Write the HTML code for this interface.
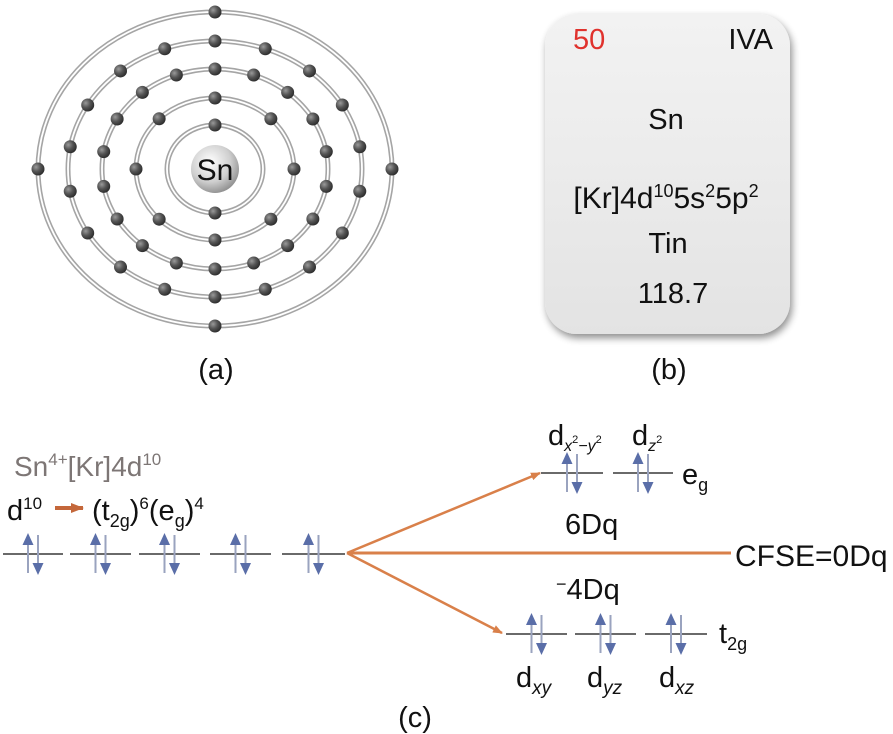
<!DOCTYPE html>
<html><head><meta charset="utf-8"><style>
html,body{margin:0;padding:0;background:#fff;}
svg{display:block;font-family:"Liberation Sans",Arial,sans-serif;}
</style></head><body>
<svg id="s" width="893" height="734" viewBox="0 0 893 734" xmlns="http://www.w3.org/2000/svg">
<defs>
<radialGradient id="el" cx="0.35" cy="0.35" r="0.7"><stop offset="0" stop-color="#9a9a9a"/><stop offset="0.5" stop-color="#555"/><stop offset="1" stop-color="#2a2a2a"/></radialGradient>
<radialGradient id="nuc" cx="0.4" cy="0.35" r="0.7"><stop offset="0" stop-color="#ffffff"/><stop offset="0.6" stop-color="#cfcfcf"/><stop offset="1" stop-color="#8a8a8a"/></radialGradient>
<linearGradient id="card" x1="0" y1="0" x2="0" y2="1"><stop offset="0" stop-color="#f2f2f2"/><stop offset="0.5" stop-color="#ebebeb"/><stop offset="1" stop-color="#e3e3e3"/></linearGradient>
<filter id="sh" x="-10%" y="-10%" width="125%" height="125%"><feGaussianBlur in="SourceAlpha" stdDeviation="4"/><feOffset dx="2" dy="4"/><feComponentTransfer><feFuncA type="linear" slope="0.45"/></feComponentTransfer><feMerge><feMergeNode/><feMergeNode in="SourceGraphic"/></feMerge></filter>
<marker id="ah" markerWidth="10" markerHeight="8" refX="9" refY="4" orient="auto" markerUnits="userSpaceOnUse"><path d="M0,0 L10,4 L0,8 Z" fill="#d9804a"/></marker>
<marker id="ah2" markerWidth="14" markerHeight="10" refX="12" refY="5" orient="auto" markerUnits="userSpaceOnUse"><path d="M0,0 L13,5 L0,10 Z" fill="#c4673a"/></marker>
</defs>
<g id="atom"></g>
<circle cx="215" cy="169" r="24" fill="url(#nuc)"/>
<text x="215" y="180" font-size="30" text-anchor="middle" fill="#111">Sn</text>

<rect x="545" y="14" width="245" height="320" rx="32" fill="url(#card)" filter="url(#sh)"/>
<text x="573" y="49" font-size="29" fill="#e0322d">50</text>
<text x="773" y="49" font-size="29" text-anchor="end" fill="#111">IVA</text>
<text x="666" y="129" font-size="29" text-anchor="middle" fill="#111">Sn</text>
<text x="666" y="208" font-size="30" text-anchor="middle" fill="#111">[Kr]4d<tspan font-size="18" dy="-11">10</tspan><tspan dy="11">5s</tspan><tspan font-size="18" dy="-11">2</tspan><tspan dy="11">5p</tspan><tspan font-size="18" dy="-11">2</tspan></text>
<text x="668" y="253" font-size="29" text-anchor="middle" fill="#111">Tin</text>
<text x="673" y="303" font-size="29" text-anchor="middle" fill="#111">118.7</text>

<text x="216" y="379" font-size="29" text-anchor="middle" fill="#111">(a)</text>
<text x="669" y="379" font-size="29" text-anchor="middle" fill="#111">(b)</text>
<text x="415" y="727" font-size="29" text-anchor="middle" fill="#111">(c)</text>

<text x="14" y="476" font-size="28" fill="#7d7675">Sn<tspan font-size="17" dy="-11">4+</tspan><tspan dy="11">[Kr]4d</tspan><tspan font-size="17" dy="-11">10</tspan></text>
<text x="7" y="520" font-size="29" fill="#111">d<tspan font-size="17" dy="-11">10</tspan></text>
<line x1="55" y1="508" x2="83" y2="508" stroke="#c4673a" stroke-width="4" marker-end="url(#ah2)"/>
<text x="92" y="520" font-size="29" fill="#111">(t<tspan font-size="18" dy="7">2g</tspan><tspan dy="-7">)</tspan><tspan font-size="17" dy="-11">6</tspan><tspan dy="11">(e</tspan><tspan font-size="18" dy="7">g</tspan><tspan dy="-7">)</tspan><tspan font-size="17" dy="-11">4</tspan></text>

<g id="lv" stroke="#6a6a6a" stroke-width="2"></g>
<line x1="347" y1="553" x2="731" y2="553" stroke="#d9804a" stroke-width="3"/>
<line x1="347" y1="553" x2="540" y2="473" stroke="#d9804a" stroke-width="2.5" marker-end="url(#ah)"/>
<line x1="347" y1="553" x2="502" y2="633" stroke="#d9804a" stroke-width="2.5" marker-end="url(#ah)"/>
<g id="sp"></g>

<text x="735" y="566" font-size="30" fill="#111">CFSE=0Dq</text>
<text x="565" y="534" font-size="29" fill="#111">6Dq</text>
<text x="556" y="599" font-size="29" fill="#111"><tspan font-size="18" dy="-9">−</tspan><tspan dy="9">4Dq</tspan></text>
<text x="682" y="484" font-size="29" fill="#111">e<tspan font-size="18" dy="7">g</tspan></text>
<text x="719" y="643" font-size="29" fill="#111">t<tspan font-size="18" dy="7">2g</tspan></text>
<text x="548" y="445" font-size="29" fill="#111">d<tspan font-size="16" font-style="italic" dy="6">x</tspan><tspan font-size="11" dy="-8">2</tspan><tspan font-size="16" font-style="italic" dy="8">−y</tspan><tspan font-size="11" dy="-8">2</tspan></text>
<text x="632" y="445" font-size="29" fill="#111">d<tspan font-size="16" font-style="italic" dy="6">z</tspan><tspan font-size="11" dy="-8">2</tspan></text>
<text x="516" y="687" font-size="29" fill="#111">d<tspan font-size="19" font-style="italic" dy="7">xy</tspan></text>
<text x="587" y="687" font-size="29" fill="#111">d<tspan font-size="19" font-style="italic" dy="7">yz</tspan></text>
<text x="659" y="687" font-size="29" fill="#111">d<tspan font-size="19" font-style="italic" dy="7">xz</tspan></text>
</svg>
<script>
var NS="http://www.w3.org/2000/svg";
function mk(p,t,a){var e=document.createElementNS(NS,t);for(var k in a)e.setAttribute(k,a[k]);p.appendChild(e);return e;}
var g=document.getElementById("atom");
var cx=215,cy=169;
var shells=[[48,44,2],[79,71,8],[113,100,18],[147,128,18],[177,157,4]];
shells.forEach(function(s){
 mk(g,"ellipse",{"cx":cx,"cy":cy,"rx":s[0],"ry":s[1],"fill":"none","stroke":"#a5a5a5","stroke-width":5});
 mk(g,"ellipse",{"cx":cx,"cy":cy,"rx":s[0],"ry":s[1],"fill":"none","stroke":"#fff","stroke-width":1.8});
});
shells.forEach(function(s){
 for(var i=0;i<s[2];i++){var a=-Math.PI/2+2*Math.PI*i/s[2];
  mk(g,"circle",{"cx":cx+s[0]*Math.cos(a),"cy":cy+s[1]*Math.sin(a),"r":6.5,"fill":"url(#el)"});}
});
var lv=document.getElementById("lv"),sp=document.getElementById("sp");
var levels=[[3,63,554],[70,131,554],[139,200,554],[210,271,554],[282,345,554],[541,603,473],[613,673,473],[506,567,634],[575,636,634],[645,707,634]];
levels.forEach(function(l){
 mk(lv,"line",{"x1":l[0],"y1":l[2],"x2":l[1],"y2":l[2]});
 var m=(l[0]+l[1])/2,y=l[2];
 mk(sp,"line",{"x1":m-5,"y1":y+19,"x2":m-5,"y2":y-12,"stroke":"#9aa3bf","stroke-width":2});
 mk(sp,"path",{"d":"M"+(m-10.5)+","+(y-9)+" L"+(m-5)+","+(y-21)+" L"+(m+0.5)+","+(y-9)+"Z","fill":"#5a6ea8"});
 mk(sp,"line",{"x1":m+5,"y1":y-19,"x2":m+5,"y2":y+12,"stroke":"#9aa3bf","stroke-width":2});
 mk(sp,"path",{"d":"M"+(m-0.5)+","+(y+9)+" L"+(m+5)+","+(y+21)+" L"+(m+10.5)+","+(y+9)+"Z","fill":"#5a6ea8"});
});
</script>
</body></html>
